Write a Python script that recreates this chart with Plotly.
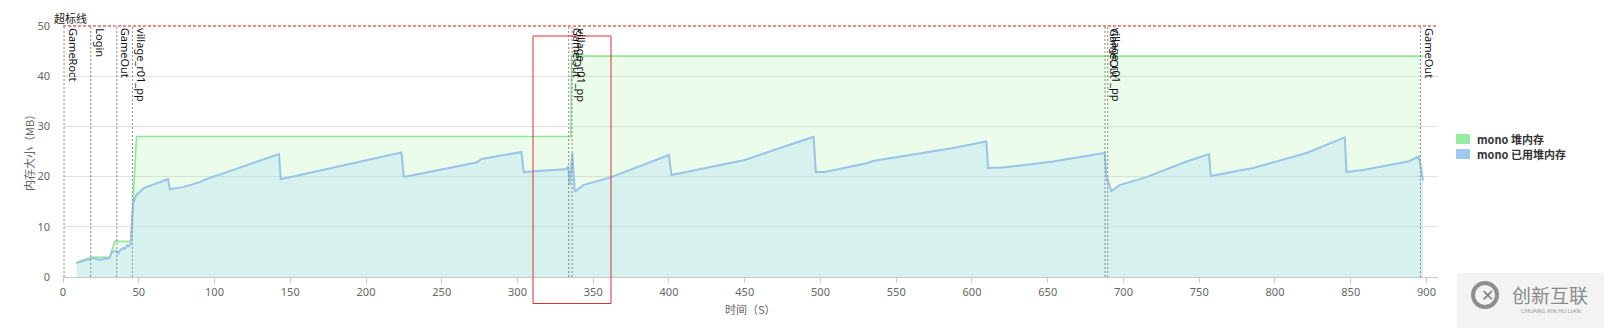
import plotly.graph_objects as go

# ---------------- data ----------------
heap_t = [8.9, 18.7, 30.9, 34.2, 44.9, 48.5, 335.2, 335.7, 897.7]
heap_v = [2.9, 3.9, 3.9, 7.1, 7.1, 28.0, 28.0, 44.0, 44.0]

used_t = [8.9, 17.7, 19.9, 24.3, 30.9, 32.0, 35.3, 36.4, 37.5, 39.7, 40.8, 42.3, 43.5, 44.7,
          46.3, 48.5, 51.8, 53.3, 69.4, 70.5, 79.3, 90.3, 94.7, 142.6, 143.7, 151.9, 223.4,
          224.9, 226.7, 272.9, 276.2, 302.6, 304.1, 332.3, 333.4, 334.5, 336.2, 337.8, 342.2,
          343.3, 362.0, 400.0, 401.6, 450.0, 484.1, 495.5, 496.9, 502.8, 531.4, 534.7, 587.5,
          609.5, 610.6, 620.5, 653.5, 674.4, 687.6, 688.7, 692.0, 697.5, 715.1, 741.6, 756.5,
          757.6, 785.5, 820.8, 846.1, 847.2, 858.1, 887.8, 895.0, 897.7]
used_v = [2.8, 3.6, 3.8, 3.4, 3.8, 4.9, 5.2, 4.7, 5.3, 5.8, 5.6, 6.3, 6.1, 6.7,
          14.7, 16.4, 17.2, 17.7, 19.5, 17.5, 17.9, 18.9, 19.5, 24.5, 19.5, 20.0, 24.8,
          20.0, 20.0, 22.8, 23.5, 24.9, 20.9, 21.5, 22.0, 18.3, 24.7, 17.0, 18.0,
          18.3, 19.9, 24.3, 20.3, 23.3, 26.8, 27.9, 20.9, 20.9, 22.7, 23.1, 25.7,
          27.0, 21.7, 21.8, 23.0, 24.0, 24.7, 20.0, 17.1, 18.3, 19.9, 23.0, 24.5,
          20.1, 21.7, 24.7, 27.8, 20.9, 21.3, 23.0, 24.0, 19.3]

event_t = [0.7, 18.3, 35.5, 45.8, 333.8, 336.0, 687.8, 689.6, 896.0]
event_names = ["GameRoct", "Login", "GameOut", "village_r01_pp", "GameOut",
               "village_r01_pp", "GameOut", "village_r01_pp", "GameOut"]

limit_value = 50
limit_name = "超标线"
series_names = ["mono 堆内存", "mono 已用堆内存"]
x_ticks = list(range(0, 901, 50))
y_ticks = list(range(0, 51, 10))
x_title = "时间（S）"
y_title = "内存大小（MB）"

# ---------------- layout geometry ----------------
W, H = 1604, 328
ML, MR, MT, MB = 63, 166, 26, 51
PW, PH = W - ML - MR, H - MT - MB


def px(x):
    return (x - ML) / PW


def py(y):
    return (H - MB - y) / PH


CJK = "Noto Sans CJK SC"
LAT = "Noto Sans, Noto Sans CJK SC"

fig = go.Figure()
fig.add_trace(go.Scatter(x=heap_t, y=heap_v, mode="lines", name=series_names[0],
                         line=dict(color="#90e597", width=1.6),
                         fill="tozeroy", fillcolor="rgba(144,238,144,0.18)",
                         showlegend=False, hoverinfo="skip"))
fig.add_trace(go.Scatter(x=used_t, y=used_v, mode="lines", name=series_names[1],
                         line=dict(color="#98c4e8", width=2),
                         fill="tozeroy", fillcolor="rgba(168,219,245,0.30)",
                         showlegend=False, hoverinfo="skip"))

shapes = []
annotations = []

# limit line
shapes.append(dict(type="line", xref="x", yref="paper", x0=0, x1=907.6, y0=1, y1=1,
                   line=dict(color="#e46464", width=1.5, dash="3px,2px"), layer="above"))
annotations.append(dict(text=limit_name, xref="paper", yref="paper", x=px(70), y=py(18),
                        xanchor="center", yanchor="middle", showarrow=False,
                        font=dict(family=CJK, size=11, color="#222")))

# event lines & labels
for t, name in zip(event_t, event_names):
    shapes.append(dict(type="line", xref="x", yref="y", x0=t, x1=t, y0=0, y1=limit_value,
                       line=dict(color="#8a8a8a", width=1, dash="2px,2px"), layer="above"))
    annotations.append(dict(text=name, xref="x", yref="paper", x=t, y=py(27),
                            xanchor="left", yanchor="top", xshift=1, textangle=90,
                            showarrow=False, borderpad=0,
                            font=dict(family=LAT, size=11, color="#111")))

# red highlight box (screenshot annotation)
shapes.append(dict(type="rect", xref="paper", yref="paper", x0=px(533), x1=px(611),
                   y0=py(303.5), y1=py(36), line=dict(color="#d93030", width=1),
                   fillcolor="rgba(0,0,0,0)", layer="above"))

# manual legend
leg_colors = ["#98eba0", "#9ecaf0"]
for i, (nm, c) in enumerate(zip(series_names, leg_colors)):
    ymid = 139 + 15 * i
    shapes.append(dict(type="rect", xref="paper", yref="paper", x0=px(1456), x1=px(1470),
                       y0=py(ymid + 5), y1=py(ymid - 5), fillcolor=c, line=dict(width=0)))
    annotations.append(dict(text="<b>" + nm + "</b>", xref="paper", yref="paper", x=px(1475),
                            y=py(ymid), xanchor="left", yanchor="middle", showarrow=False,
                            font=dict(family=CJK, size=11, color="#333")))

# axis titles
annotations.append(dict(text=x_title, xref="paper", yref="paper", x=px(750), y=py(309),
                        xanchor="center", yanchor="middle", showarrow=False,
                        font=dict(family=CJK, size=11, color="#666")))
annotations.append(dict(text=y_title, xref="paper", yref="paper", x=px(29), y=py(150),
                        xanchor="center", yanchor="middle", showarrow=False, textangle=-90,
                        font=dict(family=CJK, size=11, color="#666")))

# watermark
shapes.append(dict(type="rect", xref="paper", yref="paper", x0=px(1457), x1=px(1604),
                   y0=py(328), y1=py(273), fillcolor="#f3f3f3", line=dict(width=0), layer="above"))
shapes.append(dict(type="circle", xref="paper", yref="paper", x0=px(1473), x1=px(1497),
                   y0=py(307), y1=py(283), line=dict(color="#8e8e8e", width=4), layer="above"))
annotations.append(dict(text="<b>✕</b>", xref="paper", yref="paper", x=px(1487), y=py(295),
                        xanchor="center", yanchor="middle", showarrow=False,
                        font=dict(family="DejaVu Sans", size=16, color="#7a7a7a")))
annotations.append(dict(text="创新互联", xref="paper", yref="paper", x=px(1550), y=py(294),
                        xanchor="center", yanchor="middle", showarrow=False,
                        font=dict(family=CJK, size=19, color="#8a8a8a")))
annotations.append(dict(text="CHUANG XIN HU LIAN", xref="paper", yref="paper", x=px(1551), y=py(311),
                        xanchor="center", yanchor="middle", showarrow=False,
                        font=dict(family="Roboto", size=6, color="#999")))

fig.update_layout(
    width=W, height=H, margin=dict(l=ML, r=MR, t=MT, b=MB),
    paper_bgcolor="white", plot_bgcolor="white", showlegend=False,
    shapes=shapes, annotations=annotations,
    font=dict(family=LAT, size=11, color="#666"),
    xaxis=dict(range=[0, 907.6], tickvals=x_ticks, showgrid=False, zeroline=False,
               showline=True, linecolor="#c8c8c8", ticks="outside", ticklen=5,
               tickcolor="#c8c8c8", tickfont=dict(family=LAT, size=11, color="#666")),
    yaxis=dict(range=[0, 50], tickvals=y_ticks, showgrid=True, gridcolor="#e2e2e2",
               zeroline=False, showline=False, ticks="", ticklabelstandoff=12,
               tickfont=dict(family=LAT, size=11, color="#666")),
)

fig.write_html("out.html")
